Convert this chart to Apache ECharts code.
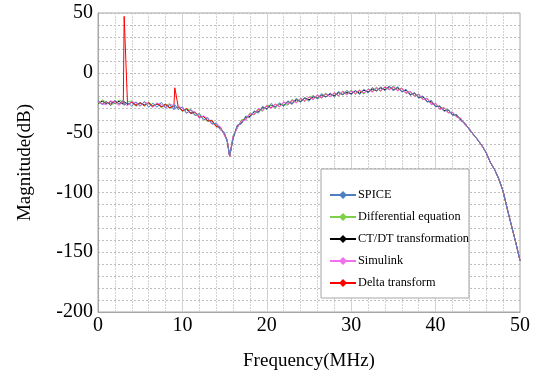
<!DOCTYPE html>
<html>
<head>
<meta charset="utf-8">
<script src="https://cdn.jsdelivr.net/npm/echarts@6/dist/echarts.min.js"></script>
<style>
  html, body { margin: 0; padding: 0; background: #fff; }
  #main { width: 533px; height: 383px; }
</style>
</head>
<body>
<div id="main"></div>
<script>
// 频率点 (MHz)
var freq = [0,0.5,1,1.5,2,2.5,3,3.1,3.5,4,4.5,5,5.5,6,6.5,7,7.5,8,8.5,9,9.1,9.5,10,10.5,11,11.5,12,12.5,13,13.5,14,14.5,15,15.3,15.6,
    16,16.5,17,17.5,18,18.5,19,19.5,20,20.5,21,21.5,22,22.5,23,23.5,24,24.5,25,25.5,26,26.5,27,27.5,28,28.5,29,29.5,30,
    30.5,31,31.5,32,32.5,33,33.5,34,34.5,35,35.5,36,36.5,37,37.5,38,38.5,39,39.5,40,40.5,41,41.5,42,42.5,43,43.5,44,44.5,
    45,45.5,46,46.5,47,47.5,48,48.5,49,49.5,50];

var spice = [-23.2,-26.6,-24.1,-27.4,-23.0,-26.2,-22.8,-26.9,-24.9,-27.8,
    -24.3,-27.4,-23.9,-28.7,-25.4,-28.8,-24.7,-29.1,-26.6,-30.9,
    -26.6,-30.8,-28.5,-33.7,-30.9,-35.9,-34.2,-39.6,-37.5,-42.7,
    -42.2,-47.9,-49.8,-58.0,-69.4,-55.2,-43.7,-42.6,-36.1,-37.5,
    -31.8,-33.8,-27.9,-30.8,-25.6,-29.0,-25.1,-28.2,-23.4,-26.5,
    -21.2,-24.7,-20.6,-23.9,-19.2,-21.9,-17.3,-20.5,-16.8,-20.3,
    -15.5,-18.6,-14.6,-18.4,-14.5,-18.2,-13.7,-17.0,-12.2,-15.4,
    -11.6,-15.1,-10.9,-15.2,-11.5,-16.2,-13.7,-19.0,-16.5,-21.4,
    -19.3,-24.5,-23.1,-28.6,-27.6,-32.3,-30.7,-35.5,-34.8,-40.0,
    -42.2,-47.6,-51.5,-56.4,-60.7,-67.3,-74.8,-81.2,-88.8,-99.1,
    -113.8,-128.1,-141.9,-157];

var diffEq = [-26.5,-22.6,-24.6,-27.0,-25.3,-22.7,-24.3,-27.4,-24.3,-23.5,
    -28.1,-25.5,-27.6,-24.3,-27.4,-25.2,-29.3,-26.9,-25.9,-30.2,
    -29.0,-27.3,-32.5,-30.4,-30.6,-35.4,-34.0,-38.2,-40.8,-39.4,
    -44.7,-45.4,-52.3,-55.6,-70.4,-52.5,-46.4,-39.1,-38.8,-33.4,
    -35.4,-30.8,-32.2,-27.2,-27.4,-29.6,-25.5,-26.8,-27.0,-22.2,
    -24.7,-21.1,-24.2,-20.6,-19.0,-21.7,-20.1,-16.8,-20.3,-16.7,
    -19.6,-15.2,-17.7,-14.5,-17.9,-14.8,-17.8,-13.3,-15.4,-11.9,
    -15.3,-12.2,-14.1,-10.8,-14.6,-12.6,-17.5,-15.6,-19.7,-17.5,
    -22.3,-21.2,-26.5,-25.8,-30.6,-29.0,-33.2,-32.9,-37.0,-38.1,
    -43.7,-46.5,-52.4,-55.6,-61.3,-66.8,-75.3,-80.7,-89.2,-98.8,
    -114.2,-127.8,-142.2,-157];

var ctdt = [-25.9,-23.6,-25.8,-24.1,-25.6,-23.9,-26.3,-24.2,-26.4,-24.6,
    -27.2,-25.1,-26.9,-25.4,-27.8,-26.1,-28.2,-26.6,-29.1,-27.6,
    -29.7,-28.4,-31.6,-30.6,-33.7,-33.1,-37.2,-36.6,-40.1,-40.2,
    -44.6,-45.8,-51.9,-56.4,-69.6,-54.9,-44.4,-42.1,-37.2,-36.6,
    -32.6,-32.7,-29.1,-30.1,-27.1,-28.6,-26.1,-27.2,-24.1,-25.6,
    -22.6,-24.1,-21.1,-22.6,-20.1,-21.1,-18.6,-20.1,-17.6,-19.1,
    -16.6,-18.1,-16.1,-17.6,-15.1,-17.1,-14.6,-16.1,-13.6,-15.1,
    -12.6,-14.1,-11.6,-14.1,-12.6,-15.6,-14.6,-18.1,-17.1,-20.6,
    -20.1,-24.1,-24.1,-28.1,-28.1,-31.6,-31.1,-35.1,-35.3,-39.8,
    -42.6,-47.4,-51.7,-56.2,-61.2,-66.8,-75.2,-81.1,-88.9,-99.2,
    -114.1,-128.2,-141.8,-157];

var simulink = [-24.1,-25.9,-26.8,-23.4,-24.9,-27.3,-23.6,-25.8,-27.6,-24.0,
    -25.2,-28.1,-24.4,-25.9,-29.0,-25.3,-26.4,-29.6,-26.2,-27.4,
    -30.6,-27.8,-29.6,-33.9,-31.2,-33.0,-38.1,-35.9,-38.2,-43.1,
    -42.0,-45.2,-52.8,-56.1,-70.2,-53.2,-46.1,-40.2,-39.6,-34.1,
    -34.9,-29.8,-31.7,-27.3,-29.9,-26.1,-28.6,-24.3,-26.4,-23.1,
    -25.2,-21.4,-23.8,-20.1,-22.6,-18.4,-21.0,-17.6,-20.1,-16.3,
    -18.9,-15.4,-18.6,-15.0,-17.5,-14.2,-17.1,-13.5,-16.3,-12.6,
    -15.2,-11.4,-14.3,-11.6,-15.1,-12.8,-17.2,-15.3,-19.8,-17.9,
    -22.6,-21.4,-26.8,-25.3,-30.7,-29.1,-33.6,-32.8,-37.1,-38.0,
    -43.9,-46.6,-52.3,-55.7,-61.2,-66.9,-74.9,-80.9,-89.1,-99.0,
    -113.9,-128.0,-142.1,-157];

var delta = [-23.9,-25.8,-24.3,-26.1,-23.6,-26.2,-24.1,47.2,-26.8,-24.4,
    -27.3,-25.2,-27.6,-25.1,-28.2,-25.8,-28.4,-26.3,-29.5,-27.1,
    -12.5,-28.2,-31.9,-29.8,-34.1,-32.6,-37.4,-36.2,-40.3,-39.8,
    -45.1,-45.3,-52.1,-56.2,-70.0,-53.7,-45.9,-40.1,-39.2,-34.4,
    -34.8,-30.2,-31.4,-27.6,-29.3,-26.2,-28.3,-24.6,-26.3,-23.1,
    -24.9,-21.8,-23.4,-20.2,-22.3,-18.6,-20.9,-17.7,-19.9,-16.8,
    -18.9,-15.8,-18.3,-15.2,-17.4,-14.6,-16.9,-13.7,-15.8,-12.8,
    -15.1,-11.9,-13.9,-11.8,-14.9,-13.1,-16.9,-15.6,-19.6,-18.1,
    -22.4,-21.6,-26.3,-25.6,-30.3,-29.3,-33.4,-33.1,-36.9,-38.4,
    -43.4,-46.8,-52.1,-56.1,-61.1,-66.9,-75.1,-81.0,-89.0,-99.1,
    -114.0,-128.0,-142.0,-157];

var names = ['SPICE', 'Differential equation', 'CT/DT transformation', 'Simulink', 'Delta transform'];
var colors = ['#4f7fc0', '#7ed04a', '#000000', '#f070f0', '#ff0000'];
var yTicks = [50, 0, -50, -100, -150, -200];

function pairs(vals) {
    var out = [];
    for (var i = 0; i < freq.length; i++) {
        out.push([freq[i], vals[i]]);
    }
    return out;
}

var chartDom = document.getElementById('main');
var myChart = echarts.init(chartDom);
var option;

var font = 'Liberation Serif';

var allVals = [spice, diffEq, ctdt, simulink, delta];
// 绘制顺序: 黑线在最下, 蓝线在最上
var drawOrder = [2, 1, 4, 3, 0];
var seriesList = [];
for (var n = 0; n < drawOrder.length; n++) {
    var k = drawOrder[n];
    seriesList.push({
        name: names[k],
        type: 'line',
        data: pairs(allVals[k]),
        symbol: 'diamond',
        showSymbol: false,
        lineStyle: { width: 1, color: colors[k] },
        itemStyle: { color: colors[k] },
        emphasis: { disabled: true }
    });
}

option = {
    animation: false,
    backgroundColor: '#fff',
    grid: {
        left: 98,
        right: 11,
        top: 13,
        bottom: 71,
        show: true,
        borderColor: '#a6a6a6',
        borderWidth: 1
    },
    legend: {
        orient: 'vertical',
        left: 321,
        top: 169,
        itemWidth: 26,
        itemHeight: 10,
        itemGap: 10,
        padding: [20, 0, 9, 8],
        borderColor: '#a6a6a6',
        borderWidth: 1,
        backgroundColor: '#fff',
        lineStyle: { width: 2 },
        textStyle: { fontFamily: font, fontSize: 12.3, lineHeight: 12, color: '#000', padding: [0, 0, 0, -3] },
        data: names
    },
    xAxis: {
        type: 'value',
        min: 0,
        max: 50,
        interval: 10,
        name: 'Frequency(MHz)',
        nameLocation: 'middle',
        nameGap: 40,
        nameTextStyle: { fontFamily: font, fontSize: 19, color: '#000' },
        axisLine: { onZero: false, lineStyle: { color: '#a6a6a6' } },
        axisTick: { show: false },
        axisLabel: { fontFamily: font, fontSize: 20, color: '#000', margin: 4 },
        splitLine: { lineStyle: { color: '#d2d2d2', width: 1 } },
        minorTick: { show: false, splitNumber: 5 },
        minorSplitLine: { show: true, lineStyle: { color: '#d2d2d2', width: 1, type: [2, 1] } }
    },
    yAxis: {
        type: 'value',
        min: -200,
        max: 50,
        interval: 50,
        name: 'Magnitude(dB)',
        nameLocation: 'middle',
        nameGap: 63,
        nameTextStyle: { fontFamily: font, fontSize: 19, color: '#000' },
        axisLine: { show: true, lineStyle: { color: '#a6a6a6' } },
        axisTick: { show: false },
        axisLabel: {
            fontFamily: font, fontSize: 20, color: '#000', margin: 5,
            formatter: function (v) { return yTicks.indexOf(v) >= 0 ? String(v) : ''; }
        },
        splitLine: { lineStyle: { color: '#bdbdbd', width: 1, type: [2, 2] } },
        minorTick: { show: false, splitNumber: 5 },
        minorSplitLine: { show: true, lineStyle: { color: '#bdbdbd', width: 1, type: [2, 2] } }
    },
    series: seriesList
};

option && myChart.setOption(option);
</script>
</body>
</html>
